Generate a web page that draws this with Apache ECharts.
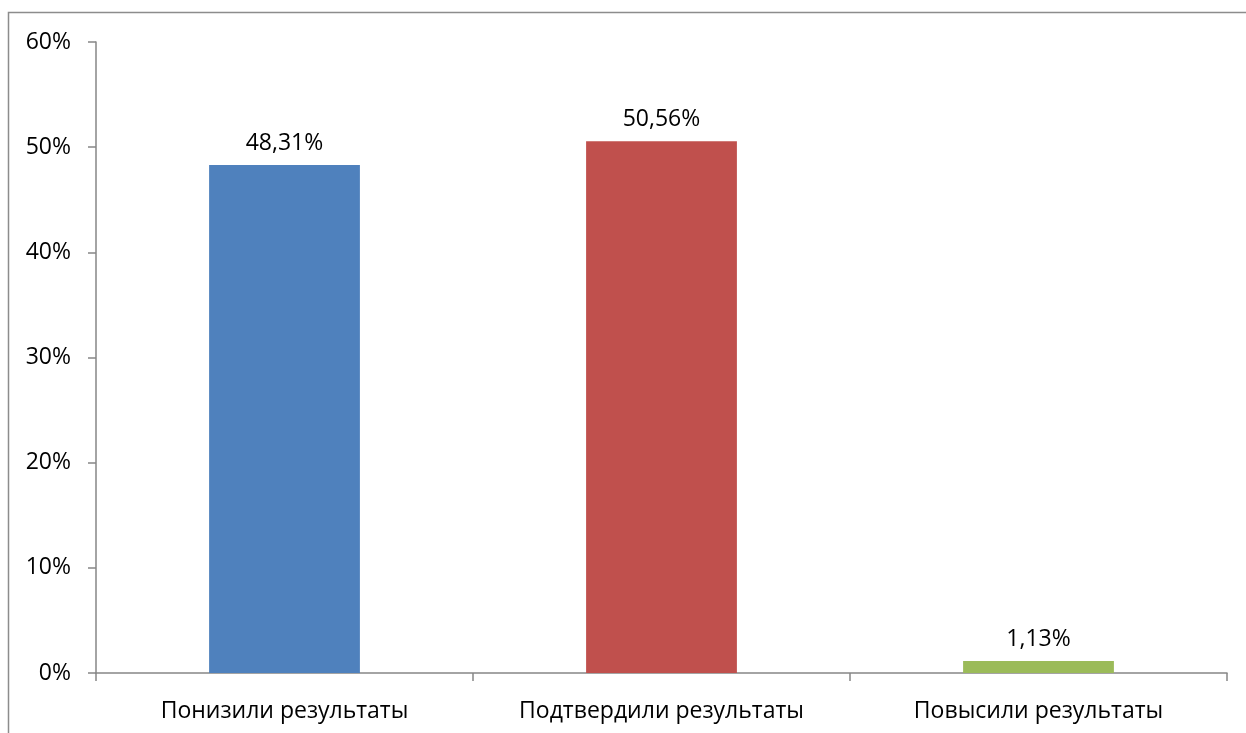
<!DOCTYPE html>
<html><head><meta charset="utf-8">
<script src="https://cdn.jsdelivr.net/npm/echarts@6/dist/echarts.min.js"></script>
<style>html,body{margin:0;padding:0;background:#fff}#c{width:1246px;height:733px}</style>
</head><body><div id="c"></div>
<script>
const categories = ['Понизили результаты', 'Подтвердили результаты', 'Повысили результаты'];
const values = [48.31, 50.56, 1.13];
const valueLabels = ['48,31%', '50,56%', '1,13%'];
const colors = ['#4F81BD', '#C0504D', '#9BBB59'];
const yTicks = [0, 10, 20, 30, 40, 50, 60];

const font = 'Open Sans';
const chart = echarts.init(document.getElementById('c'));
chart.setOption({
  animation: false,
  graphic: [{type:'rect', shape:{x:8.5,y:12.5,width:1400,height:900}, style:{fill:'none', stroke:'#8c8c8c', lineWidth:1.5}}],
  grid: {left: 96, right: 19, top: 42, bottom: 60},
  xAxis: {
    type: 'category', data: categories,
    axisLine: {lineStyle: {color: '#868686', width: 1.5}},
    axisTick: {show: true, alignWithLabel: false, length: 8, lineStyle: {color: '#868686', width: 1.5}},
    axisLabel: {color: '#000', fontFamily: font, fontSize: 23, margin: 27}
  },
  yAxis: {
    type: 'value', min: 0, max: 60, interval: 10,
    axisLine: {show: true, lineStyle: {color: '#868686', width: 1.5}},
    axisTick: {show: true, length: 8, lineStyle: {color: '#868686', width: 1.5}},
    splitLine: {show: false},
    axisLabel: {color: '#000', fontFamily: font, fontSize: 23, margin: 25, formatter: v => yTicks.includes(v) ? v + '%' : ''}
  },
  series: [{
    type: 'bar', barWidth: '40%',
    data: values.map((v, i) => ({value: v, itemStyle: {color: colors[i]}})),
    label: {show: true, position: 'top', distance: 10, color: '#000', fontFamily: font, fontSize: 23,
      formatter: p => valueLabels[p.dataIndex]}
  }]
});
</script></body></html>
